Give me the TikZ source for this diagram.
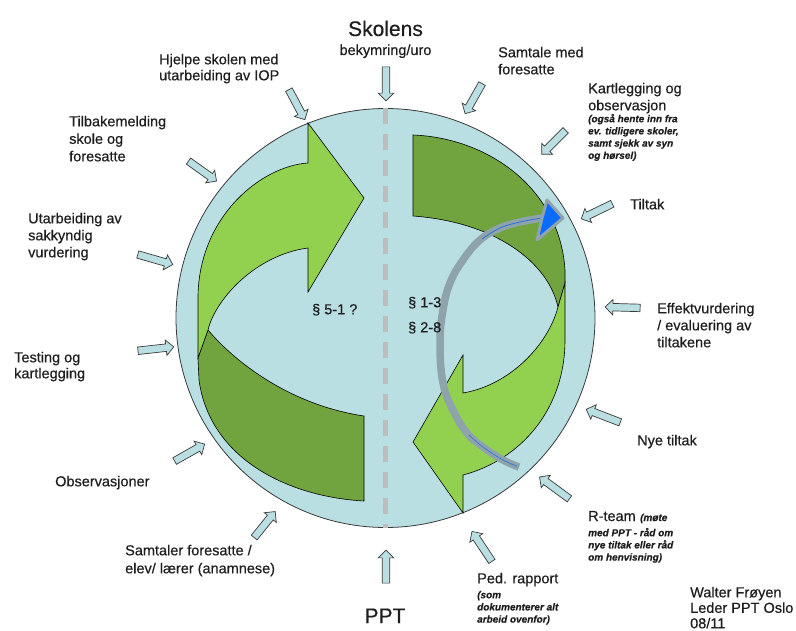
\documentclass[tikz,border=0pt]{standalone}
\usepackage{fontspec}
\setmainfont{Liberation Sans}[FakeBold=0.45]
\usetikzlibrary{shapes.arrows}

\definecolor{pale}{HTML}{B9DFE3}
\definecolor{leaf}{HTML}{92D050}
\definecolor{moss}{HTML}{71A33F}
\definecolor{ink}{HTML}{1E1E1E}
\definecolor{steel}{HTML}{8EA3AA}
\definecolor{signal}{HTML}{0A6CFF}
\definecolor{thread}{HTML}{2A6FE0}
\definecolor{rule}{HTML}{BDBDBD}
\definecolor{rim}{HTML}{3A3A3A}

\tikzset{
  lbl/.style={font=\fontsize{14.5}{17}\selectfont, text=ink, inner sep=0pt, align=left, anchor=north west},
  note/.style={font=\fontsize{10}{12.2}\selectfont\bfseries\itshape, text=ink, inner sep=0pt, align=left, anchor=north west},
  big/.style={font=\fontsize{21}{24}\selectfont, text=ink, inner sep=0pt, anchor=base},
  inarrow/.style={single arrow, draw=rim, fill=pale, line width=0.7pt,
    inner xsep=0pt, inner ysep=3.4pt, single arrow head extend=4pt,
    single arrow tip angle=90, minimum height=#1},
  band/.style={draw=black, line width=0.6pt, line join=miter},
}

\begin{document}
\begin{tikzpicture}[x=1pt,y=-1pt]
\fill[white] (0,0) rectangle (796,631);
\useasboundingbox (0,0) rectangle (796,631);

% the disc and its dividing line
\node[circle, fill=pale, draw=rim, line width=0.8pt, minimum size=419pt, inner sep=0pt] (disk) at (385.5,318) {};
\draw[rule, line width=5pt, dash pattern=on 16pt off 10pt] (disk.north) -- (disk.south);

% left ribbon arrow: back face below, front face with head pointing right
\path[band, fill=moss] (208,330) .. controls (235,362) and (290,405) .. (364,416)
  -- (364,501) .. controls (290,497) and (210,460) .. (199,380) -- (198,358) -- cycle;
\path[band, fill=leaf] (364,198) -- (308,123) -- (308,163)
  .. controls (262,166) and (200,215) .. (198,295) -- (198,358) -- (208,330)
  .. controls (215,300) and (255,255) .. (308,248) -- (308,292) -- cycle;

% right ribbon arrow: back face above, front face with head pointing left
\path[band, fill=moss] (413,135) .. controls (490,138) and (560,190) .. (565,270)
  -- (565,283) -- (558,307) .. controls (548,262) and (495,222) .. (413,216) -- cycle;
\path[band, fill=leaf] (413,442) -- (463,355) -- (463,393)
  .. controls (510,385) and (548,345) .. (558,307) -- (565,283) -- (565,340)
  .. controls (565,410) and (520,460) .. (463,475) -- (463,513) -- cycle;

% curved progress arrow
\draw[steel, line width=7.5pt] plot[smooth, tension=0.7] coordinates {
  (519,467) (503,460) (483,447) (467,433) (453,410) (443,383) (440,343)
  (443,310) (450,283) (463,260) (480,240) (500,228) (520,222) (542,218)};
\draw[thread, line width=0.8pt] plot[smooth, tension=0.7] coordinates {
  (482,239) (500,228) (520,222) (542,218)};
\draw[thread, line width=0.8pt, opacity=0.8] plot[smooth, tension=0.7] coordinates {
  (469,435) (483,447) (503,460) (517,466)};
\path[draw=steel, line width=3pt, line join=round, fill=signal]
  (547,200) -- (563,218) -- (537,240) -- (542,218) -- cycle;

% incoming block arrows
\node[inarrow=34]   (a1)  at (386,82)      [rotate=-90] {};
\node[inarrow=34]   (a2)  at (296,103)     [rotate=-62] {};
\node[inarrow=34.5] (a3)  at (474.5,97)    [rotate=-119.5] {};
\node[inarrow=34]   (a4)  at (555,141)     [rotate=-135] {};
\node[inarrow=34.5] (a5)  at (598.5,210.5) [rotate=-154] {};
\node[inarrow=35]   (a6)  at (624.5,307.5) [rotate=178.4] {};
\node[inarrow=36.4] (a7)  at (605,416.5)   [rotate=159] {};
\node[inarrow=37]   (a8)  at (556,489)     [rotate=143.7] {};
\node[inarrow=36]   (a9)  at (483,548)     [rotate=123.7] {};
\node[inarrow=33]   (a10) at (386,568.5)   [rotate=90] {};
\node[inarrow=33.4] (a11) at (263.5,526)   [rotate=51] {};
\node[inarrow=34.5] (a12) at (188,453.5)   [rotate=29.5] {};
\node[inarrow=36]   (a13) at (154,349)     [rotate=6.3] {};
\node[inarrow=36.4] (a14) at (153.5,259)   [rotate=-16] {};
\node[inarrow=34.4] (a15) at (201,170)     [rotate=-35.5] {};

% headings
\node[big] (skole) at (385.5,36) {Skolens};
\node[lbl, anchor=base] (uro) at (385.5,55) {bekymring/uro};
\node[big] (ppt) at (385,623) {PPT};

% labels round the disc
\node[lbl, font=\fontsize{14.5}{16}\selectfont] (iop) at (159,53.6) {Hjelpe skolen med\\utarbeiding av IOP};
\node[lbl] (samtale) at (498,46.6) {Samtale med\\foresatte};
\node[lbl] (kart) at (588,82.6) {Kartlegging og\\observasjon};
\node[note] (kartnote) at (588,113.8) {(også hente inn fra\\ev. tidligere skoler,\\samt sjekk av syn\\og hørsel)};
\node[lbl] (tiltak) at (630,198.6) {Tiltak};
\node[lbl] (effekt) at (657,302.6) {Effektvurdering\\/ evaluering av\\tiltakene};
\node[lbl] (nye) at (637,434.6) {Nye tiltak};
\node[lbl, anchor=base west] (rteam) at (588,521) {R-team};
\node[note, anchor=base west] (rteamnote) at ([xshift=4pt]rteam.base east) {(møte};
\node[note] (rteamrest) at (588,527.8) {med PPT - råd om\\nye tiltak eller råd\\om henvisning)};
\node[lbl] (ped) at (477,572.6) {Ped. rapport};
\node[note] (pednote) at (477,590.8) {(som\\dokumenterer alt\\arbeid ovenfor)};
\node[lbl, font=\fontsize{14.5}{15.5}\selectfont] (sign) at (690,586.6) {Walter Frøyen\\Leder PPT Oslo\\08/11};
\node[lbl, font=\fontsize{14.5}{17.5}\selectfont] (tilbake) at (69,115.6) {Tilbakemelding\\skole og\\foresatte};
\node[lbl] (sakk) at (28,212.6) {Utarbeiding av\\sakkyndig\\vurdering};
\node[lbl, font=\fontsize{14.5}{16}\selectfont] (testing) at (14,351.6) {Testing og\\kartlegging};
\node[lbl] (obs) at (55,475.6) {Observasjoner};
\node[lbl, font=\fontsize{14.5}{18}\selectfont] (anam) at (125,544.6) {Samtaler foresatte /\\elev/ lærer (anamnese)};

% paragraph references inside the disc
\node[lbl] (p51) at (312,303.6) {§ 5-1 ?};
\node[lbl] (p13) at (408,296.6) {§ 1-3};
\node[lbl] (p28) at (408,321.6) {§ 2-8};
\end{tikzpicture}
\end{document}
